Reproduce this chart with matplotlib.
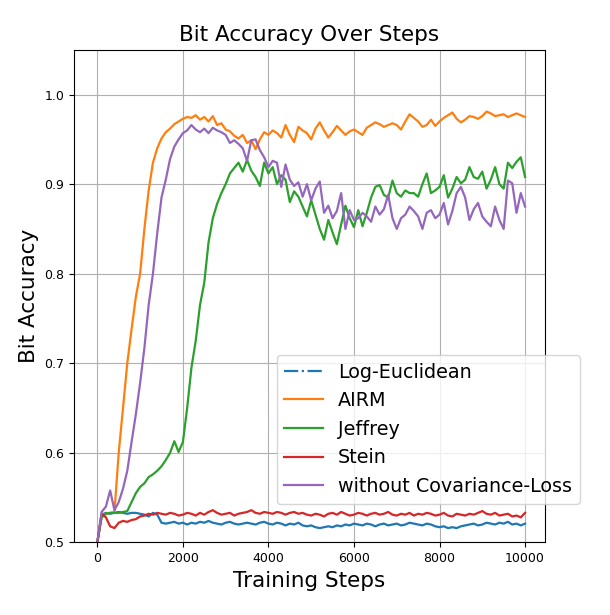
import numpy as np
import matplotlib
matplotlib.use("Agg")
import matplotlib.pyplot as plt
from matplotlib.lines import Line2D

steps = list(range(0, 10001, 100))

airm = [0.500, 0.530, 0.532, 0.533, 0.534, 0.600, 0.650, 0.700, 0.738, 0.774,
        0.800, 0.850, 0.893, 0.924, 0.940, 0.951, 0.958, 0.962, 0.967, 0.970,
        0.973, 0.975, 0.974, 0.977, 0.972, 0.975, 0.970, 0.976, 0.966, 0.968,
        0.961, 0.959, 0.954, 0.951, 0.955, 0.946, 0.949, 0.939, 0.950, 0.958,
        0.955, 0.960, 0.957, 0.952, 0.966, 0.955, 0.947, 0.964, 0.960, 0.957,
        0.950, 0.962, 0.969, 0.960, 0.952, 0.958, 0.965, 0.960, 0.955, 0.959,
        0.961, 0.958, 0.955, 0.963, 0.966, 0.969, 0.967, 0.964, 0.966, 0.968,
        0.966, 0.961, 0.970, 0.978, 0.974, 0.970, 0.964, 0.966, 0.972, 0.965,
        0.970, 0.974, 0.977, 0.980, 0.973, 0.969, 0.972, 0.976, 0.975, 0.973,
        0.976, 0.981, 0.979, 0.976, 0.977, 0.978, 0.975, 0.977, 0.979, 0.977,
        0.975]

no_cov = [0.500, 0.534, 0.540, 0.558, 0.536, 0.545, 0.560, 0.580, 0.612, 0.643,
          0.678, 0.717, 0.765, 0.800, 0.845, 0.885, 0.905, 0.928, 0.942, 0.950,
          0.957, 0.960, 0.966, 0.961, 0.958, 0.962, 0.957, 0.963, 0.960, 0.958,
          0.955, 0.946, 0.949, 0.945, 0.940, 0.926, 0.949, 0.950, 0.938, 0.930,
          0.919, 0.926, 0.924, 0.897, 0.922, 0.905, 0.898, 0.902, 0.886, 0.900,
          0.882, 0.895, 0.903, 0.868, 0.876, 0.862, 0.870, 0.890, 0.850, 0.871,
          0.860, 0.862, 0.868, 0.864, 0.858, 0.875, 0.866, 0.872, 0.888, 0.862,
          0.850, 0.862, 0.866, 0.875, 0.870, 0.864, 0.850, 0.868, 0.871, 0.862,
          0.866, 0.879, 0.855, 0.870, 0.890, 0.897, 0.885, 0.860, 0.872, 0.879,
          0.864, 0.858, 0.853, 0.875, 0.860, 0.850, 0.904, 0.901, 0.868, 0.890,
          0.875]

jeffrey = [0.500, 0.528, 0.532, 0.533, 0.533, 0.533, 0.534, 0.535, 0.545, 0.555,
           0.562, 0.566, 0.573, 0.576, 0.580, 0.585, 0.592, 0.600, 0.613, 0.601,
           0.612, 0.650, 0.695, 0.725, 0.765, 0.790, 0.835, 0.862, 0.878, 0.890,
           0.900, 0.912, 0.918, 0.924, 0.914, 0.927, 0.915, 0.908, 0.898, 0.924,
           0.912, 0.919, 0.900, 0.910, 0.905, 0.880, 0.892, 0.886, 0.875, 0.864,
           0.882, 0.866, 0.850, 0.838, 0.860, 0.846, 0.833, 0.855, 0.876, 0.862,
           0.852, 0.871, 0.853, 0.868, 0.885, 0.897, 0.899, 0.888, 0.885, 0.904,
           0.890, 0.886, 0.893, 0.890, 0.890, 0.886, 0.900, 0.912, 0.890, 0.893,
           0.897, 0.910, 0.885, 0.895, 0.908, 0.901, 0.905, 0.919, 0.908, 0.906,
           0.914, 0.895, 0.905, 0.919, 0.900, 0.895, 0.924, 0.918, 0.925, 0.930,
           0.908]

stein = [0.500, 0.532, 0.528, 0.518, 0.516, 0.522, 0.524, 0.523, 0.525, 0.526,
         0.529, 0.530, 0.532, 0.531, 0.533, 0.532, 0.531, 0.533, 0.532, 0.530,
         0.531, 0.533, 0.532, 0.530, 0.533, 0.531, 0.534, 0.536, 0.533, 0.531,
         0.532, 0.533, 0.530, 0.532, 0.533, 0.534, 0.536, 0.533, 0.532, 0.534,
         0.533, 0.532, 0.534, 0.533, 0.531, 0.533, 0.534, 0.532, 0.533, 0.531,
         0.530, 0.532, 0.531, 0.529, 0.532, 0.533, 0.531, 0.534, 0.532, 0.530,
         0.531, 0.533, 0.532, 0.530, 0.532, 0.533, 0.531, 0.532, 0.534, 0.531,
         0.530, 0.532, 0.531, 0.533, 0.530, 0.532, 0.531, 0.533, 0.532, 0.530,
         0.531, 0.533, 0.530, 0.529, 0.532, 0.531, 0.530, 0.532, 0.531, 0.533,
         0.535, 0.532, 0.531, 0.533, 0.530, 0.531, 0.532, 0.529, 0.530, 0.528,
         0.533]

log_euclid = [0.500, 0.531, 0.533, 0.532, 0.533, 0.534, 0.533, 0.532, 0.533, 0.533,
              0.532, 0.531, 0.529, 0.533, 0.531, 0.522, 0.521, 0.522, 0.523, 0.521,
              0.522, 0.520, 0.522, 0.521, 0.523, 0.522, 0.524, 0.522, 0.521, 0.520,
              0.522, 0.523, 0.521, 0.520, 0.521, 0.522, 0.521, 0.520, 0.522, 0.523,
              0.521, 0.520, 0.522, 0.521, 0.519, 0.521, 0.520, 0.522, 0.519, 0.518,
              0.519, 0.517, 0.516, 0.517, 0.518, 0.517, 0.519, 0.518, 0.520, 0.519,
              0.521, 0.520, 0.519, 0.521, 0.520, 0.518, 0.520, 0.521, 0.519, 0.520,
              0.521, 0.519, 0.520, 0.522, 0.521, 0.520, 0.519, 0.521, 0.520, 0.518,
              0.517, 0.518, 0.516, 0.517, 0.516, 0.518, 0.519, 0.520, 0.521, 0.519,
              0.520, 0.522, 0.521, 0.520, 0.522, 0.521, 0.523, 0.520, 0.521, 0.519,
              0.521]

labels = ["Log-Euclidean", "AIRM", "Jeffrey", "Stein", "without Covariance-Loss"]
colors = ["#1f77b4", "#ff7f0e", "#2ca02c", "#d62728", "#9467bd"]
series = [log_euclid, airm, jeffrey, stein, no_cov]
xticks = [0, 2000, 4000, 6000, 8000, 10000]
yticks = [0.5, 0.6, 0.7, 0.8, 0.9, 1.0]

fig = plt.figure(figsize=(6.10, 6.15), dpi=100)
ax = fig.add_axes([0.121, 0.118, 0.772, 0.801])

for s, c in zip(series, colors):
    ax.plot(steps, s, color=c, linewidth=1.6)

handles = [Line2D([0], [0], color=colors[0], linestyle="-.", linewidth=1.6)]
handles += [Line2D([0], [0], color=c, linewidth=1.6) for c in colors[1:]]

ax.set_xlim(-550, 10460)
ax.set_ylim(0.5, 1.05)
ax.set_xticks(xticks)
ax.set_yticks(yticks)
ax.tick_params(labelsize=9)
ax.grid(True)
ax.set_title("Bit Accuracy Over Steps", fontsize=15.5)
ax.set_xlabel("Training Steps", fontsize=15.5)
ax.set_ylabel("Bit Accuracy", fontsize=15.5)

leg = ax.legend(handles, labels, loc="lower right", bbox_to_anchor=(1.074, 0.079),
                borderaxespad=0, fontsize=13.8)

fig.savefig("out.png", dpi=100)
